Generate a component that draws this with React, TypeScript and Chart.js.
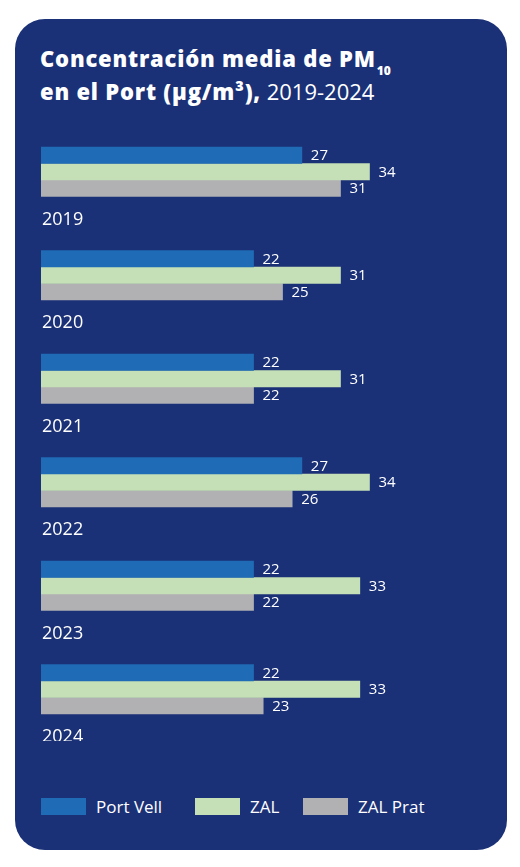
import { useEffect, useRef } from 'react'
import { Chart, BarController, BarElement, CategoryScale, LinearScale } from 'chart.js'

Chart.register(BarController, BarElement, CategoryScale, LinearScale);

const years = ['2019', '2020', '2021', '2022', '2023', '2024'];
const seriesNames = ['Port Vell', 'ZAL', 'ZAL Prat'];
const portVell = [27, 22, 22, 27, 22, 22];
const zal = [34, 31, 31, 34, 33, 33];
const zalPrat = [31, 25, 22, 26, 22, 23];

const colors = ['#1f6bb5', '#c5e0b6', '#b1b1b3'];
const navy = '#1b3177';
const font = '"Open Sans", "Noto Sans", sans-serif';

// left offsets of legend items inside the card
const legendLeft = [26, 180, 288];

const labelsPlugin = {
  id: 'pmLabels',
  afterDatasetsDraw(chart: Chart) {
    const ctx = chart.ctx;
    ctx.save();
    ctx.fillStyle = '#ffffff';
    ctx.textAlign = 'left';
    ctx.textBaseline = 'alphabetic';
    // value labels at bar ends
    ctx.font = `15px ${font}`;
    chart.data.datasets.forEach((ds, di) => {
      const meta = chart.getDatasetMeta(di);
      meta.data.forEach((bar: any, i) => {
        ctx.fillText(String(ds.data[i]), bar.x + 9, bar.y + 5);
      });
    });
    // year labels under each group
    ctx.font = `18px ${font}`;
    const yScale = chart.scales.y;
    years.forEach((yr, i) => {
      ctx.fillText(yr, chart.chartArea.left + 1, yScale.getPixelForValue(i) + 53);
    });
    ctx.restore();
  },
};

export default function App() {
  const canvasRef = useRef<HTMLCanvasElement>(null);

  useEffect(() => {
    if (!canvasRef.current) return;
    const chart = new Chart(canvasRef.current, {
      type: 'bar',
      data: {
        labels: years,
        datasets: [portVell, zal, zalPrat].map((d, i) => ({
          label: seriesNames[i],
          data: d,
          backgroundColor: colors[i],
          borderWidth: 0,
          barThickness: 16.5,
        })),
      },
      options: {
        indexAxis: 'y',
        animation: false,
        responsive: true,
        maintainAspectRatio: false,
        layout: { padding: 0 },
        plugins: { legend: { display: false }, tooltip: { enabled: false } },
        scales: {
          x: { display: false, min: 0, max: 45.75 },
          y: { display: false },
        },
      },
      plugins: [labelsPlugin],
    });
    return () => chart.destroy();
  }, []);

  return (
    <div style={{
      position: 'relative', width: 492, height: 831, marginLeft: 7, marginTop: 11,
      background: navy, borderRadius: 30, color: '#fff', fontFamily: font,
    }}>
      <div style={{ position: 'absolute', left: 25, top: 25, fontSize: 22, lineHeight: '28px', whiteSpace: 'nowrap', letterSpacing: 0.8 }}>
        <div style={{ fontWeight: 800 }}>
          Concentración media de PM
          <span style={{ fontSize: 12, position: 'relative', top: 8, marginLeft: 1, letterSpacing: 0 }}>10</span>
        </div>
        <div>
          <span style={{ fontWeight: 800 }}>en el Port (μg/m³),</span>
          <span style={{ letterSpacing: 0 }}> 2019-2024</span>
        </div>
      </div>
      <div style={{ position: 'absolute', left: 26, top: 101, width: 442, height: 621 }}>
        <canvas ref={canvasRef} />
      </div>
      {seriesNames.map((name, i) => (
        <div key={name} style={{
          position: 'absolute', left: legendLeft[i], top: 779, height: 17,
          display: 'flex', alignItems: 'center', fontSize: 17, whiteSpace: 'nowrap',
        }}>
          <span style={{ display: 'inline-block', width: 45, height: 17, background: colors[i], marginRight: 10 }} />
          {name}
        </div>
      ))}
    </div>
  );
}
